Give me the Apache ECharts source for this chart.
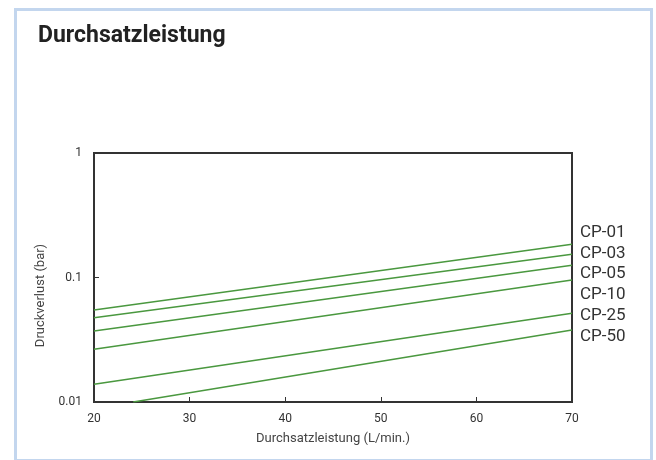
<!DOCTYPE html>
<html>
<head>
<meta charset="utf-8">
<script src="https://cdn.jsdelivr.net/npm/echarts@6/dist/echarts.min.js"></script>
<style>
html,body{margin:0;padding:0;background:#fff;}
#chart{width:656px;height:460px;}
</style>
</head>
<body>
<div id="chart"></div>
<script>
const seriesNames = ['CP-01', 'CP-03', 'CP-05', 'CP-10', 'CP-25', 'CP-50'];
const flowStart = [20, 20, 20, 20, 20, 24.1];
const flowEnd = [70, 70, 70, 70, 70, 70];
const lossStart = [0.0548, 0.0475, 0.0372, 0.0265, 0.0139, 0.01];
const lossEnd = [0.185, 0.1535, 0.1253, 0.0955, 0.0516, 0.0379];
const xTicks = [20, 30, 40, 50, 60, 70];
const yTicks = [0.01, 0.1, 1];

const FONT = '"Roboto", sans-serif';
const chart = echarts.init(document.getElementById('chart'), null, {renderer: 'canvas'});

const series = seriesNames.map((n, i) => ({
  name: n,
  type: 'line',
  data: [[flowStart[i], lossStart[i]], [flowEnd[i], lossEnd[i]]],
  showSymbol: false,
  lineStyle: {color: '#4a983f', width: 1.6},
  animation: false
}));

const labelGraphics = seriesNames.map((n, i) => ({
  type: 'text',
  left: 580,
  top: 224 + i * 20.8,
  style: {text: n, fill: '#333', font: '17px ' + FONT}
}));

chart.setOption({
  animation: false,
  grid: {left: 94, right: 84, top: 153, bottom: 58, show: true, borderColor: '#333', borderWidth: 2},
  xAxis: {
    type: 'value', min: xTicks[0], max: xTicks[xTicks.length - 1], interval: 10,
    name: 'Durchsatzleistung (L/min.)', nameLocation: 'middle', nameGap: 30,
    nameTextStyle: {color: '#444', fontSize: 13, fontFamily: FONT},
    axisLine: {lineStyle: {color: '#333', width: 2}},
    axisTick: {inside: true, length: 5, lineStyle: {color: '#333'}},
    axisLabel: {color: '#333', fontSize: 12, fontFamily: FONT, margin: 11},
    splitLine: {show: false}
  },
  yAxis: {
    type: 'log', logBase: 10, min: yTicks[0], max: yTicks[yTicks.length - 1],
    name: 'Druckverlust (bar)', nameLocation: 'middle', nameGap: 46,
    nameTextStyle: {color: '#444', fontSize: 13, fontFamily: FONT, padding: [0, 36, 0, 0]},
    axisLine: {lineStyle: {color: '#333', width: 2}},
    axisTick: {inside: true, length: 5, lineStyle: {color: '#333'}},
    axisLabel: {color: '#333', fontSize: 12, fontFamily: FONT, margin: 12,
      formatter: v => String(v)},
    splitLine: {show: false}
  },
  graphic: [
    {type: 'rect', left: 13, top: 7, shape: {width: 636, height: 451},
     style: {fill: null, stroke: '#c3d6ee', lineWidth: 3}},
    {type: 'text', left: 38, top: 25,
     style: {text: 'Durchsatzleistung', fill: '#222', font: 'bold 23px ' + FONT}}
  ].concat(labelGraphics),
  series: series
});
</script>
</body>
</html>
